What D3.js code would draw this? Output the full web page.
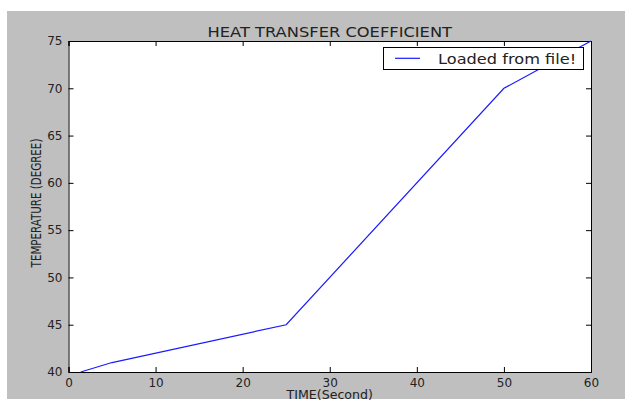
<!DOCTYPE html>
<html>
<head>
<meta charset="utf-8">
<script src="https://cdn.jsdelivr.net/npm/d3@7"></script>
<style>
  body { margin: 0; background: #fff; }
  svg text { font-family: "DejaVu Sans", sans-serif; fill: #222; }
</style>
</head>
<body>
<svg id="chart" width="625" height="401"></svg>
<script>
// data
let timeSec = [1.4, 5, 25, 50, 60];
let tempDeg = [40, 41, 45, 70, 75];
let xTicks = [0, 10, 20, 30, 40, 50, 60];
let yTicks = [40, 45, 50, 55, 60, 65, 70, 75];
let titleText = 'HEAT TRANSFER COEFFICIENT';
let xLabel = 'TIME(Second)';
let yLabel = 'TEMPERATURE (DEGREE)';
let legendText = 'Loaded from file!';

let svg = d3.select('#chart');
let margin = { top: 41, right: 34, bottom: 29, left: 68.5 };
let width = 625, height = 401;

// gray figure background
svg.append('rect')
  .attr('x', 7).attr('y', 11)
  .attr('width', width - 7).attr('height', 388)
  .attr('fill', '#bfbfbf');

let x = d3.scaleLinear().domain([0, 60]).range([margin.left, width - margin.right]);
let y = d3.scaleLinear().domain([40, 75]).range([height - margin.bottom, margin.top]);

// plot area
svg.append('rect')
  .attr('x', x(0)).attr('y', y(75))
  .attr('width', x(60) - x(0)).attr('height', y(40) - y(75))
  .attr('fill', '#fff');

let tickLen = 5;
// bottom axis with labels, ticks point inside
let xAxisB = svg.append('g')
  .attr('transform', `translate(0,${y(40)})`)
  .call(d3.axisBottom(x).tickValues(xTicks).tickSize(-tickLen).tickPadding(6).tickFormat(d3.format('d')));
xAxisB.selectAll('text').style('font-size', '12px');

let xAxisT = svg.append('g')
  .attr('transform', `translate(0,${y(75)})`)
  .call(d3.axisTop(x).tickValues(xTicks).tickSize(-tickLen).tickFormat(''));

let yAxisL = svg.append('g')
  .attr('transform', `translate(${x(0)},0)`)
  .call(d3.axisLeft(y).tickValues(yTicks).tickSize(-tickLen).tickPadding(6).tickFormat(d3.format('d')));
yAxisL.selectAll('text').style('font-size', '12px');

let yAxisR = svg.append('g')
  .attr('transform', `translate(${x(60)},0)`)
  .call(d3.axisRight(y).tickValues(yTicks).tickSize(-tickLen).tickFormat(''));

svg.selectAll('.domain').attr('stroke', '#000').attr('stroke-width', 1);
svg.selectAll('.tick line').attr('stroke', '#000');
svg.selectAll('.tick text').attr('fill', '#222');

// the line
let line = d3.line().x((d, i) => x(timeSec[i])).y(d => y(d));
svg.append('path')
  .datum(tempDeg)
  .attr('d', line)
  .attr('fill', 'none')
  .attr('stroke', '#1a1aff')
  .attr('stroke-width', 1.2);

// title
svg.append('text')
  .attr('transform', `translate(${(x(0) + x(60)) / 2},36.7) scale(1,0.86)`)
  .attr('text-anchor', 'middle')
  .style('font-size', '16.3px')
  .text(titleText);

// axis labels
svg.append('text')
  .attr('transform', `translate(${(x(0) + x(60)) / 2},399) scale(1,0.92)`)
  .attr('text-anchor', 'middle')
  .style('font-size', '12.6px')
  .text(xLabel);

svg.append('text')
  .attr('transform', `translate(41,203) rotate(-90) scale(0.77,1)`)
  .attr('text-anchor', 'middle')
  .style('font-size', '13.4px')
  .text(yLabel);

// legend
let lg = svg.append('g');
lg.append('rect')
  .attr('x', 383.5).attr('y', 47.5)
  .attr('width', 200).attr('height', 22)
  .attr('fill', '#fff').attr('stroke', '#000').attr('stroke-width', 1);
lg.append('line')
  .attr('x1', 395).attr('x2', 420)
  .attr('y1', 58.3).attr('y2', 58.3)
  .attr('stroke', '#1a1aff').attr('stroke-width', 1.2);
lg.append('text')
  .attr('transform', 'translate(438,63.5) scale(1,0.88)')
  .style('font-size', '16.2px')
  .text(legendText);
</script>
</body>
</html>
